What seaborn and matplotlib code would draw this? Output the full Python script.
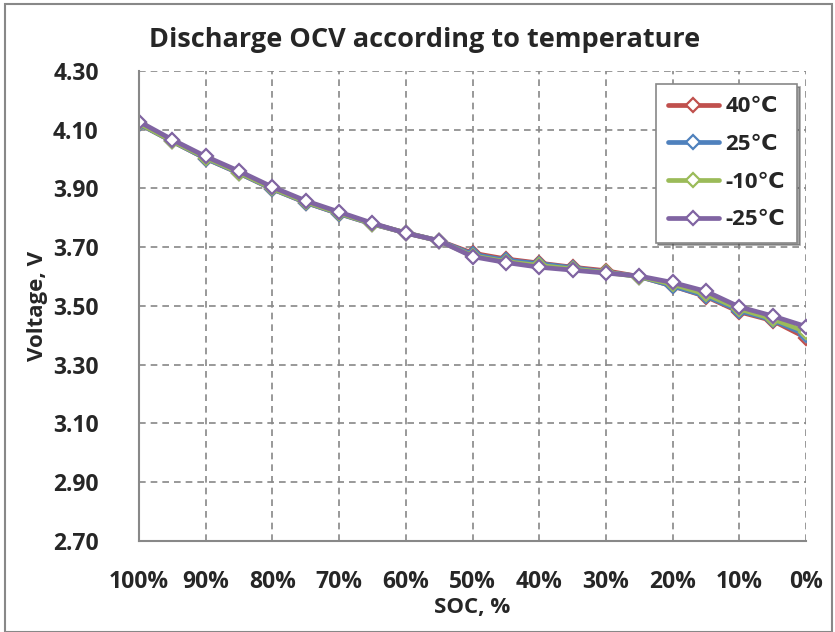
import numpy as np
import pandas as pd
import matplotlib
matplotlib.use('Agg')
import matplotlib.pyplot as plt
import seaborn as sns
from matplotlib.patches import Rectangle

# State of charge, % (left to right: 100 -> 0)
soc = [100, 95, 90, 85, 80, 75, 70, 65, 60, 55, 50, 45, 40, 35, 30, 25, 20, 15, 10, 5, 0]

# Open circuit voltage per temperature, V
v_40 = [4.120, 4.060, 4.002, 3.952, 3.898, 3.852, 3.814, 3.779, 3.749, 3.722, 3.680, 3.660, 3.646, 3.632, 3.620, 3.600, 3.568, 3.532, 3.480, 3.450, 3.392]
v_25 = [4.120, 4.060, 4.002, 3.952, 3.898, 3.852, 3.814, 3.779, 3.749, 3.722, 3.676, 3.656, 3.644, 3.630, 3.616, 3.600, 3.568, 3.534, 3.484, 3.452, 3.402]
v_m10 = [4.122, 4.061, 4.005, 3.954, 3.900, 3.854, 3.816, 3.780, 3.749, 3.721, 3.671, 3.651, 3.638, 3.626, 3.614, 3.600, 3.574, 3.540, 3.490, 3.456, 3.412]
v_m25 = [4.128, 4.066, 4.009, 3.959, 3.905, 3.858, 3.820, 3.782, 3.748, 3.722, 3.668, 3.648, 3.632, 3.622, 3.612, 3.602, 3.580, 3.550, 3.497, 3.466, 3.430]

series_names = ['40\u2103', '25\u2103', '-10\u2103', '-25\u2103']
series_vals = [v_40, v_25, v_m10, v_m25]
colors = ['#C0504D', '#4F81BD', '#9BBB59', '#8064A2']

y_ticks = [2.70, 2.90, 3.10, 3.30, 3.50, 3.70, 3.90, 4.10, 4.30]
x_ticks = [100, 90, 80, 70, 60, 50, 40, 30, 20, 10, 0]

df = pd.concat([
    pd.DataFrame({'SOC': soc, 'Voltage': vals, 'Temp': name})
    for name, vals in zip(series_names, series_vals)
])

sns.set_style('white')
plt.rcParams['font.family'] = ['Open Sans', 'DejaVu Sans']
plt.rcParams['font.weight'] = 'bold'

fig = plt.figure(figsize=(8.35, 6.32), dpi=100)
ax = fig.add_axes([0.1665, 0.144, 0.7988, 0.7437])

for name, col in zip(series_names, colors):
    sns.lineplot(data=df[df['Temp'] == name], x='SOC', y='Voltage', ax=ax,
                 color=col, linewidth=3.4, marker='D', markersize=7.5,
                 markerfacecolor='white', markeredgecolor=col,
                 markeredgewidth=1.6, label=name, legend=False)

ax.set_xlim(100, 0)
ax.set_ylim(2.70, 4.30)
ax.set_xticks(x_ticks)
ax.set_xticklabels([f'{t}%' for t in x_ticks])
ax.set_yticks(y_ticks)
ax.set_yticklabels([f'{t:.2f}' for t in y_ticks])
ax.tick_params(axis='both', labelsize=16.5, length=7, width=1.3,
               color='#888888', direction='out')
ax.tick_params(axis='x', pad=14)
ax.tick_params(axis='y', pad=22)
for lab in ax.get_xticklabels() + ax.get_yticklabels():
    lab.set_fontweight('bold')

ax.grid(True, linestyle=(0, (4, 3)), color='#888888', linewidth=1.2)
for side in ['top', 'right']:
    ax.spines[side].set_visible(False)
for side in ['left', 'bottom']:
    ax.spines[side].set_color('#888888')
    ax.spines[side].set_linewidth(1.5)

ax.set_xlabel('SOC, %', fontsize=16, fontweight='bold', labelpad=2)
ax.set_ylabel('Voltage, V', fontsize=16, fontweight='bold', labelpad=4)
fig.text(0.508, 0.937, 'Discharge OCV according to temperature', fontsize=19.5,
         fontweight='bold', ha='center', va='center')

leg = ax.legend(loc='upper right', bbox_to_anchor=(0.987, 0.972),
                borderaxespad=0, numpoints=1,
                frameon=True, fancybox=False, shadow=True,
                handlelength=2.3, labelspacing=0.75, borderpad=0.55,
                handletextpad=0.3,
                prop={'weight': 'bold', 'size': 16})
leg.get_frame().set_edgecolor('#888888')
leg.get_frame().set_linewidth(1.2)

# chart border
fig.patches.append(Rectangle((0.006, 0.0), 0.99, 0.993, transform=fig.transFigure,
                             fill=False, edgecolor='#888888', linewidth=1.5))

fig.savefig('out.png', dpi=100)
